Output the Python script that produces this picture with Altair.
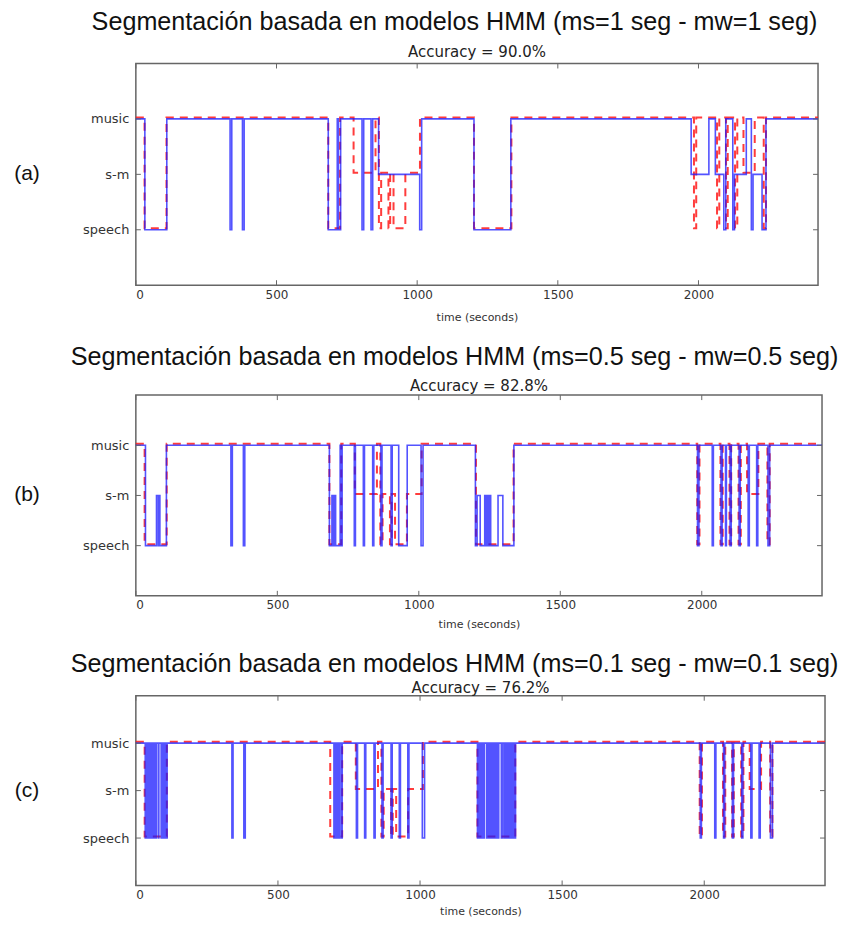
import altair as alt
import pandas as pd

M, SM, SP = "music", "s-m", "speech"
CLASSES = [SP, SM, M]          # plotted at 1, 2, 3
X_MAX = 2425
X_TICKS = [0, 500, 1000, 1500, 2000]
Y_TICKS = [1, 2, 3]

TITLES = [
    "Segmentación basada en modelos HMM (ms=1 seg - mw=1 seg)",
    "Segmentación basada en modelos HMM (ms=0.5 seg - mw=0.5 seg)",
    "Segmentación basada en modelos HMM (ms=0.1 seg - mw=0.1 seg)",
]
ACCURACY = ["Accuracy = 90.0%", "Accuracy = 82.8%", "Accuracy = 76.2%"]
PANEL_TAGS = ["(a)", "(b)", "(c)"]

# reference labelling (red dashed), change points (time s, class)
TRUTH = [(0, M), (31, SP), (109, M), (684, SP), (726, M), (774, SM), (852, M), (864, SP),
         (872, SM), (898, SP), (904, SM), (916, SP), (958, SM), (1010, M), (1202, SP),
         (1335, M), (1984, SP), (1992, M), (2066, SP), (2074, M), (2098, SP), (2104, M),
         (2130, SP), (2138, M), (2160, SM), (2200, M), (2232, SP), (2240, M), (2425, M)]

# HMM segmentation (blue), panel (a)
PRED_A = [(0, M), (32, SP), (110, M), (335, SP), (341, M), (379, SP), (385, M), (684, SP),
          (716, M), (720, SP), (728, M), (804, SP), (810, M), (836, SP), (842, M), (863, SM),
          (1009, SP), (1016, M), (1202, SP), (1333, M), (1974, SM), (2037, M), (2060, SM),
          (2090, SP), (2097, M), (2122, SP), (2128, SM), (2170, M), (2188, SP), (2194, SM),
          (2226, SP), (2240, M), (2425, M)]

# panel (b)
PRED_B = [(0, M), (34, SP), (73, SM), (79, SP), (81, SM), (85, SP), (108, M), (336, SP),
          (341, M), (380, SP), (385, M), (684, SP), (693, SM), (696, SP), (698, SM), (701, SP),
          (703, SM), (706, SP), (722, M), (724, SP), (729, M), (772, SP), (776, M), (804, SP),
          (808, M), (837, SP), (841, M), (866, SP), (870, M), (902, SP), (906, M), (929, SP),
          (959, M), (1008, SP), (1015, M), (1200, SP), (1206, SM), (1217, SP), (1233, SM),
          (1236, SP), (1239, SM), (1242, SP), (1245, SM), (1248, SP), (1251, SM), (1254, SP),
          (1280, SM), (1297, SP), (1336, M), (1985, SP), (1990, M), (2037, SP), (2041, M),
          (2068, SP), (2072, M), (2084, SP), (2087, M), (2100, SP), (2104, M), (2132, SP),
          (2136, M), (2164, SP), (2168, M), (2194, SP), (2198, M), (2234, SP), (2240, M),
          (2425, M)]

# panel (c)
PRED_C = [(0, M), (33, SP), (35, M), (37, SP), (40, M), (42, SP), (44, M), (47, SP), (49, M),
          (51, SP), (54, M), (56, SP), (58, M), (61, SP), (63, M), (65, SP), (68, M), (70, SP),
          (72, M), (79, SP), (81, M), (89, SP), (91, M), (93, SP), (96, M), (98, SP), (100, M),
          (103, SP), (105, M), (107, SP), (110, M), (338, SP), (342, M), (380, SP), (385, M),
          (697, SP), (699, M), (701, SP), (703, M), (705, SP), (707, M), (709, SP), (711, M),
          (713, SP), (716, M), (722, SP), (726, M), (776, SP), (780, M), (805, SP), (809, M),
          (838, SP), (842, M), (866, SP), (870, M), (898, SP), (902, M), (927, SP), (931, M),
          (957, SP), (961, M), (1008, SP), (1016, M), (1202, SP), (1204, M), (1206, SP),
          (1208, M), (1210, SP), (1212, M), (1215, SP), (1217, M), (1219, SP), (1221, M),
          (1223, SP), (1226, M), (1234, SP), (1236, M), (1238, SP), (1241, M), (1243, SP),
          (1245, M), (1247, SP), (1250, M), (1252, SP), (1254, M), (1256, SP), (1259, M),
          (1261, SP), (1263, M), (1265, SP), (1268, M), (1270, SP), (1272, M), (1274, SP),
          (1277, M), (1286, SP), (1289, M), (1295, SP), (1297, M), (1299, SP), (1302, M),
          (1304, SP), (1306, M), (1308, SP), (1311, M), (1313, SP), (1315, M), (1317, SP),
          (1320, M), (1322, SP), (1324, M), (1326, SP), (1329, M), (1331, SP), (1336, M),
          (1986, SP), (1990, M), (2037, SP), (2041, M), (2068, SP), (2072, M), (2099, SP),
          (2103, M), (2132, SP), (2136, M), (2164, SP), (2168, M), (2193, SP), (2197, M),
          (2233, SP), (2240, M), (2425, M)]

PREDS = [PRED_A, PRED_B, PRED_C]

# layout (plot area sizes and text offsets, in px)
SIZES = [(683, 222), (687, 201), (690, 190)]
TITLE_DY = [-41.4, -38.4, -31.4]
SUB_DY = [-11, -9, -8]
XTITLE_PAD = [11, 8, 5]
TITLE_X = 319          # title centre, from the plot's left edge
TITLE_SIZE = 25.2
TAG_DX = -109
SPACING = 20

BLUE = "#1a1aff"
RED = "#ff1a1a"
FRAME = "#666666"


def frame(pairs):
    return pd.DataFrame({"t": [p[0] for p in pairs],
                         "y": [CLASSES.index(p[1]) + 1 for p in pairs]})


label_expr = "[" + ",".join("'%s'" % c for c in CLASSES) + "][datum.value - 1]"


def panel(i):
    w, h = SIZES[i]
    x_enc = alt.X("t:Q", scale=alt.Scale(domain=[0, X_MAX], nice=False, zero=False),
                  axis=alt.Axis(values=X_TICKS, format="d", title="time (seconds)",
                                labelPadding=4, titlePadding=XTITLE_PAD[i]))
    y_enc = alt.Y("y:Q", scale=alt.Scale(domain=[0, 4], nice=False, zero=False),
                  axis=alt.Axis(values=Y_TICKS, labelExpr=label_expr, title=None,
                                labelPadding=7, labelFontSize=13))

    truth = alt.Chart(frame(TRUTH)).mark_line(
        interpolate="step-after", color=RED, strokeDash=[8, 6], strokeWidth=2,
        opacity=0.85, yOffset=-1.5).encode(x=x_enc, y=y_enc)
    pred = alt.Chart(frame(PREDS[i])).mark_line(
        interpolate="step-after", color=BLUE, strokeWidth=1.6, opacity=0.75
    ).encode(x=x_enc, y=y_enc)

    xt = pd.DataFrame({"t": X_TICKS})
    yt = pd.DataFrame({"y": Y_TICKS})
    tick_style = dict(color=FRAME, strokeWidth=1)
    xt_top = alt.Chart(xt).mark_rule(**tick_style).encode(
        x=x_enc, y=alt.value(0), y2=alt.value(5))
    xt_bot = alt.Chart(xt).mark_rule(**tick_style).encode(
        x=x_enc, y=alt.value(h), y2=alt.value(h - 5))
    yt_l = alt.Chart(yt).mark_rule(**tick_style).encode(
        y=y_enc, x=alt.value(0), x2=alt.value(5))
    yt_r = alt.Chart(yt).mark_rule(**tick_style).encode(
        y=y_enc, x=alt.value(w - 5), x2=alt.value(w))

    title = alt.Chart(pd.DataFrame({"s": [TITLES[i]]})).mark_text(
        font="Liberation Sans", fontSize=TITLE_SIZE, color="#111111", align="center",
        baseline="middle").encode(text="s:N", x=alt.value(TITLE_X),
                                  y=alt.value(TITLE_DY[i]))
    sub = alt.Chart(pd.DataFrame({"s": [ACCURACY[i]]})).mark_text(
        font="DejaVu Sans", fontSize=15, color="#222222", align="center",
        baseline="middle").encode(text="s:N", x=alt.value(w / 2), y=alt.value(SUB_DY[i]))
    tag = alt.Chart(pd.DataFrame({"s": [PANEL_TAGS[i]]})).mark_text(
        font="Liberation Sans", fontSize=21, color="#111111", align="center",
        baseline="middle").encode(text="s:N", x=alt.value(TAG_DX), y=alt.value(h / 2))

    return alt.layer(truth, pred, xt_top, xt_bot, yt_l, yt_r, title, sub, tag).properties(
        width=w, height=h)


chart = alt.vconcat(*[panel(i) for i in range(3)], spacing=SPACING).configure_view(
    stroke=FRAME, strokeWidth=1.5
).configure_axis(
    labelFont="DejaVu Sans", labelFontSize=12, labelColor="#333333",
    titleFont="DejaVu Sans", titleFontSize=11, titleColor="#333333",
    titleFontWeight="normal", grid=False, domain=False, ticks=False
).properties(
    background="white",
    padding={"left": 5, "top": 0, "right": 0, "bottom": 0},
)

chart.save("out.html", embed_options={"renderer": "svg", "actions": False})
